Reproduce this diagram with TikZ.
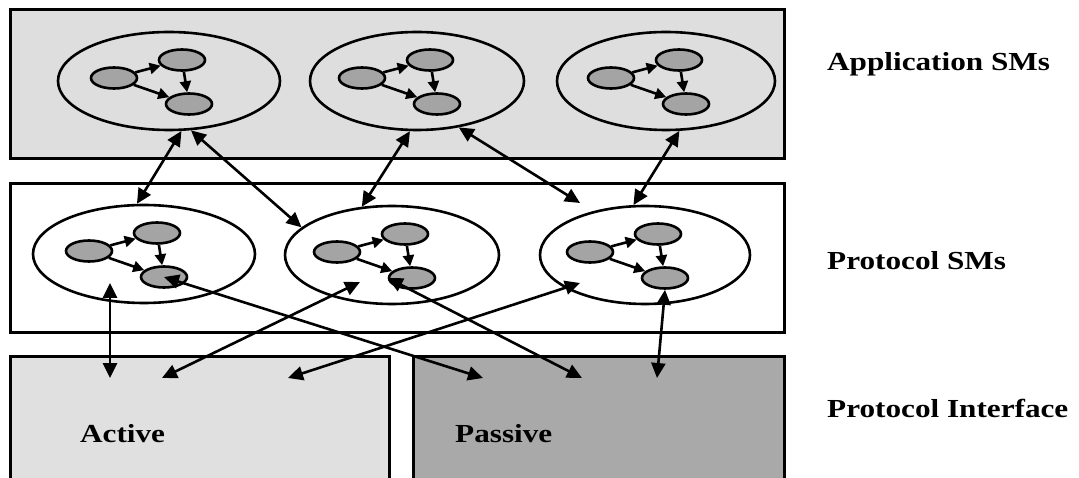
\documentclass[tikz,border=0pt]{standalone}
\usepackage{fontspec}
\setmainfont{Liberation Serif}[FakeStretch=1.2]
\usetikzlibrary{shapes.geometric}
\usetikzlibrary{arrows.meta}
\definecolor{appgray}{HTML}{DEDEDE}
\definecolor{actgray}{HTML}{E0E0E0}
\definecolor{pasgray}{HTML}{A9A9A9}
\definecolor{stgray}{HTML}{A4A4A4}
\tikzset{%
  layer/.style = {rectangle,draw,line width=2.6pt,anchor=north west,
        inner sep=0pt},
  sm/.style = {ellipse,draw,line width=2.6pt,inner sep=0pt,
        minimum height=98pt},
  st/.style = {ellipse,draw,line width=2.6pt,fill=stgray,inner sep=0pt,
        minimum width=46pt,minimum height=21pt},
  linkarrow/.style = {{Triangle[length=15pt,width=14pt]}-{Triangle[length=15pt,width=14pt]},
        line width=2.6pt},
  steparrow/.style = {-{Triangle[length=11pt,width=11pt]},line width=2.6pt},
  lbl/.style = {anchor=west,inner sep=0pt,
        font=\bfseries\fontsize{26}{30}\selectfont}
}

\begin{document}
\begin{tikzpicture}[x=1pt,y=-1pt]
\useasboundingbox (0,0) rectangle (1079,478);
% layers
\node[layer,fill=appgray,minimum width=774pt,minimum height=149pt] (appbox) at (9,8) {};
\node[layer,fill=white,minimum width=774pt,minimum height=149pt] (protbox) at (9,182) {};
\node[layer,fill=actgray,minimum width=379pt,minimum height=130pt] (active) at (9,355) {};
\node[layer,fill=pasgray,minimum width=371pt,minimum height=130pt] (passive) at (412,355) {};
% state machines
\foreach \n/\x/\y/\w/\c in {app1/169/81/222/appgray, app2/417/81/214/appgray,
    app3/666/81/218/appgray, prot1/144/254/222/white,
    prot2/392/255/214/white, prot3/645/255/210/white}{
  \node[sm,fill=\c,minimum width=\w pt] (\n) at (\x,\y) {};
  \node[st] (\n-a) at ({\x-55},{\y-3}) {};
  \node[st] (\n-b) at ({\x+13},{\y-21}) {};
  \node[st] (\n-c) at ({\x+20},{\y+23}) {};
  \draw[steparrow] (\n-a) -- (\n-b);
  \draw[steparrow] (\n-b) -- (\n-c);
  \draw[steparrow] (\n-a) -- (\n-c);
}
% free ends
\coordinate (p1in) at (110,283);
\coordinate (p2in) at (360,282);
\coordinate (p3in) at (580,283);
\coordinate (p3top) at (580,203);
\coordinate (act1) at (110,378);
\coordinate (act2) at (162,378);
\coordinate (act3) at (288,378);
\coordinate (pas1) at (483,378);
\coordinate (pas2) at (582,378);
\coordinate (pas3) at (657,378);
% links
\draw[linkarrow] (app1.284) -- (prot1.98);
\draw[linkarrow] (app1.294) -- (prot2.163);
\draw[linkarrow] (app2.262) -- (prot2.122);
\draw[linkarrow] (app2.312) -- (p3top);
\draw[linkarrow] (app3.285) -- (prot3.103);
\draw[linkarrow] (p1in) -- (act1);
\draw[linkarrow] (prot1-c.center) -- (pas1);
\draw[linkarrow] (p2in) -- (act2);
\draw[linkarrow] (prot2-c.west) -- (pas2);
\draw[linkarrow] (p3in) -- (act3);
\draw[linkarrow] (prot3-c.south) -- (pas3);
% labels
\node[lbl] (applbl) at (827,64) {Application SMs};
\node[lbl] (protlbl) at (827,261) {Protocol SMs};
\node[lbl] (iflbl) at (827,408) {Protocol Interface};
\node[lbl] (actlbl) at (80,434) {Active};
\node[lbl] (paslbl) at (455,434) {Passive};
\end{tikzpicture}
\end{document}
